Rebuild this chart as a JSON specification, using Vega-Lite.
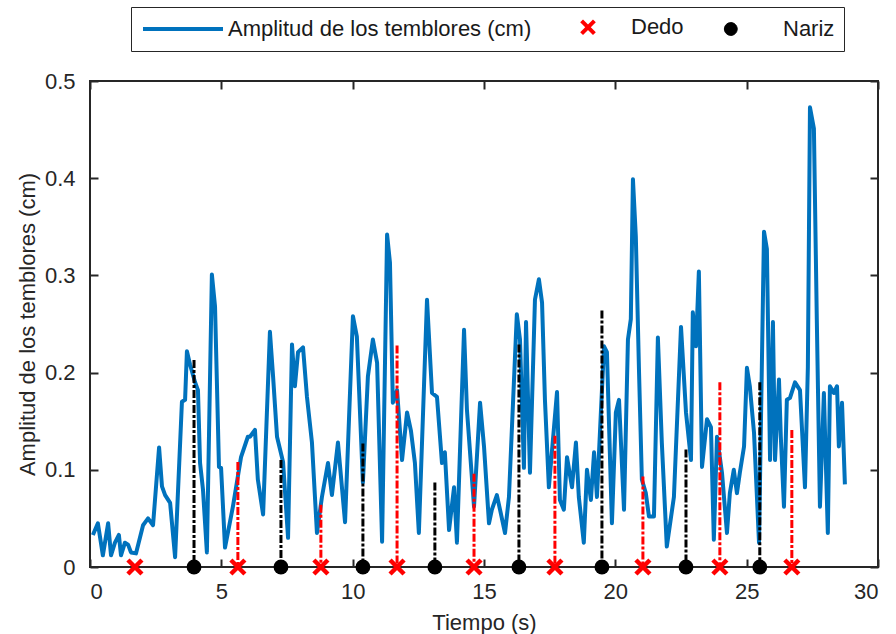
{
  "$schema": "https://vega.github.io/schema/vega-lite/v6.json",
  "width": 788,
  "height": 486,
  "autosize": "none",
  "padding": {"left": 90, "top": 81, "right": 18, "bottom": 67},
  "background": "#ffffff",
  "datasets": {
    "signal": [
      {"t":0.11,"a":0.033},{"t":0.30,"a":0.045},{"t":0.49,"a":0.012},{"t":0.69,"a":0.045},{"t":0.80,"a":0.012},
      {"t":0.95,"a":0.025},{"t":1.10,"a":0.033},{"t":1.18,"a":0.012},{"t":1.33,"a":0.025},{"t":1.45,"a":0.023},
      {"t":1.56,"a":0.015},{"t":1.75,"a":0.014},{"t":2.02,"a":0.043},{"t":2.21,"a":0.050},{"t":2.40,"a":0.043},
      {"t":2.63,"a":0.123},{"t":2.74,"a":0.083},{"t":2.86,"a":0.074},{"t":3.05,"a":0.066},{"t":3.24,"a":0.010},
      {"t":3.50,"a":0.170},{"t":3.62,"a":0.172},{"t":3.69,"a":0.222},{"t":3.81,"a":0.208},{"t":4.00,"a":0.190},
      {"t":4.11,"a":0.182},{"t":4.19,"a":0.107},{"t":4.30,"a":0.080},{"t":4.45,"a":0.015},{"t":4.64,"a":0.301},
      {"t":4.76,"a":0.268},{"t":4.91,"a":0.103},{"t":4.99,"a":0.102},{"t":5.14,"a":0.020},{"t":5.44,"a":0.062},
      {"t":5.75,"a":0.113},{"t":6.01,"a":0.134},{"t":6.09,"a":0.134},{"t":6.28,"a":0.141},{"t":6.39,"a":0.090},
      {"t":6.59,"a":0.054},{"t":6.85,"a":0.242},{"t":6.97,"a":0.196},{"t":7.12,"a":0.134},{"t":7.35,"a":0.108},
      {"t":7.54,"a":0.030},{"t":7.69,"a":0.229},{"t":7.80,"a":0.186},{"t":7.92,"a":0.221},{"t":8.11,"a":0.226},
      {"t":8.26,"a":0.175},{"t":8.45,"a":0.128},{"t":8.64,"a":0.035},{"t":8.83,"a":0.072},{"t":9.06,"a":0.107},
      {"t":9.21,"a":0.074},{"t":9.44,"a":0.128},{"t":9.71,"a":0.046},{"t":10.01,"a":0.258},{"t":10.16,"a":0.237},
      {"t":10.39,"a":0.087},{"t":10.58,"a":0.196},{"t":10.77,"a":0.234},{"t":10.93,"a":0.210},{"t":11.12,"a":0.026},
      {"t":11.31,"a":0.342},{"t":11.42,"a":0.313},{"t":11.53,"a":0.169},{"t":11.69,"a":0.182},{"t":11.88,"a":0.110},
      {"t":12.07,"a":0.159},{"t":12.22,"a":0.140},{"t":12.37,"a":0.107},{"t":12.52,"a":0.035},{"t":12.83,"a":0.275},
      {"t":13.02,"a":0.179},{"t":13.21,"a":0.175},{"t":13.40,"a":0.107},{"t":13.51,"a":0.118},{"t":13.67,"a":0.038},
      {"t":13.86,"a":0.082},{"t":13.97,"a":0.025},{"t":14.24,"a":0.244},{"t":14.35,"a":0.162},{"t":14.62,"a":0.062},
      {"t":14.85,"a":0.169},{"t":15.00,"a":0.124},{"t":15.19,"a":0.045},{"t":15.30,"a":0.059},{"t":15.49,"a":0.074},
      {"t":15.61,"a":0.059},{"t":15.80,"a":0.035},{"t":15.95,"a":0.072},{"t":16.25,"a":0.260},{"t":16.37,"a":0.234},
      {"t":16.52,"a":0.102},{"t":16.60,"a":0.252},{"t":16.75,"a":0.097},{"t":16.94,"a":0.275},{"t":17.09,"a":0.296},
      {"t":17.21,"a":0.272},{"t":17.32,"a":0.172},{"t":17.47,"a":0.082},{"t":17.78,"a":0.180},{"t":17.89,"a":0.069},
      {"t":18.04,"a":0.059},{"t":18.16,"a":0.113},{"t":18.35,"a":0.082},{"t":18.50,"a":0.128},{"t":18.61,"a":0.072},
      {"t":18.80,"a":0.025},{"t":18.92,"a":0.100},{"t":19.07,"a":0.069},{"t":19.19,"a":0.118},{"t":19.30,"a":0.072},
      {"t":19.45,"a":0.159},{"t":19.57,"a":0.227},{"t":19.68,"a":0.221},{"t":19.87,"a":0.045},{"t":20.02,"a":0.159},
      {"t":20.14,"a":0.172},{"t":20.33,"a":0.059},{"t":20.48,"a":0.234},{"t":20.59,"a":0.255},{"t":20.67,"a":0.399},
      {"t":20.78,"a":0.340},{"t":20.90,"a":0.203},{"t":21.01,"a":0.090},{"t":21.16,"a":0.076},{"t":21.28,"a":0.052},
      {"t":21.47,"a":0.052},{"t":21.62,"a":0.236},{"t":21.77,"a":0.128},{"t":21.96,"a":0.021},{"t":22.23,"a":0.072},
      {"t":22.50,"a":0.247},{"t":22.69,"a":0.159},{"t":22.88,"a":0.110},{"t":22.95,"a":0.262},{"t":23.07,"a":0.227},
      {"t":23.18,"a":0.304},{"t":23.30,"a":0.103},{"t":23.49,"a":0.152},{"t":23.64,"a":0.144},{"t":23.75,"a":0.028},
      {"t":23.87,"a":0.134},{"t":24.06,"a":0.097},{"t":24.25,"a":0.035},{"t":24.36,"a":0.076},{"t":24.51,"a":0.100},
      {"t":24.63,"a":0.076},{"t":24.74,"a":0.097},{"t":24.90,"a":0.124},{"t":25.01,"a":0.205},{"t":25.12,"a":0.186},
      {"t":25.28,"a":0.138},{"t":25.47,"a":0.025},{"t":25.66,"a":0.345},{"t":25.77,"a":0.327},{"t":25.89,"a":0.110},
      {"t":26.00,"a":0.252},{"t":26.08,"a":0.110},{"t":26.23,"a":0.193},{"t":26.30,"a":0.134},{"t":26.42,"a":0.062},
      {"t":26.53,"a":0.172},{"t":26.65,"a":0.174},{"t":26.84,"a":0.190},{"t":27.03,"a":0.182},{"t":27.22,"a":0.082},
      {"t":27.33,"a":0.206},{"t":27.41,"a":0.473},{"t":27.56,"a":0.451},{"t":27.67,"a":0.255},{"t":27.79,"a":0.062},
      {"t":27.94,"a":0.179},{"t":28.09,"a":0.035},{"t":28.17,"a":0.186},{"t":28.32,"a":0.179},{"t":28.44,"a":0.186},
      {"t":28.51,"a":0.124},{"t":28.63,"a":0.169},{"t":28.74,"a":0.085}
    ],
    "events": [
      {"t":1.71,"a":0.0,"tipo":"Dedo"},
      {"t":5.63,"a":0.108,"tipo":"Dedo"},
      {"t":8.79,"a":0.064,"tipo":"Dedo"},
      {"t":11.69,"a":0.228,"tipo":"Dedo"},
      {"t":14.62,"a":0.096,"tipo":"Dedo"},
      {"t":17.70,"a":0.135,"tipo":"Dedo"},
      {"t":21.05,"a":0.093,"tipo":"Dedo"},
      {"t":23.98,"a":0.190,"tipo":"Dedo"},
      {"t":26.72,"a":0.141,"tipo":"Dedo"},
      {"t":3.96,"a":0.213,"tipo":"Nariz"},
      {"t":7.27,"a":0.110,"tipo":"Nariz"},
      {"t":10.39,"a":0.127,"tipo":"Nariz"},
      {"t":13.13,"a":0.087,"tipo":"Nariz"},
      {"t":16.33,"a":0.229,"tipo":"Nariz"},
      {"t":19.49,"a":0.264,"tipo":"Nariz"},
      {"t":22.69,"a":0.121,"tipo":"Nariz"},
      {"t":25.50,"a":0.190,"tipo":"Nariz"}
    ]
  },
  "resolve": {"axis": {"x": "independent", "y": "independent"}},
  "layer": [
    {
      "data": {"name": "signal"},
      "mark": {"type": "line", "strokeWidth": 4, "strokeJoin": "round", "clip": true},
      "encoding": {
        "x": {"field": "t", "type": "quantitative",
              "scale": {"domain": [0, 30], "nice": false, "zero": false},
              "axis": {"orient": "bottom", "values": [0,5,10,15,20,25,30], "title": "Tiempo (s)", "labelPadding": 22, "titlePadding": 10}},
        "y": {"field": "a", "type": "quantitative",
              "scale": {"domain": [0, 0.5], "nice": false},
              "axis": {"orient": "left", "values": [0,0.1,0.2,0.3,0.4,0.5], "format": ".1~f", "title": "Amplitud de los temblores (cm)", "labelPadding": 23, "titlePadding": 5}},
        "color": {
          "datum": "Amplitud de los temblores (cm)",
          "type": "nominal",
          "title": null,
          "scale": {"domain": ["Amplitud de los temblores (cm)", "Dedo", "Nariz"], "range": ["#0072BD", "#FF0000", "#000000"]},
          "legend": {
            "orient": "none", "legendX": 41, "legendY": -74,
            "direction": "horizontal", "columns": 3, "title": null,
            "padding": 9, "strokeColor": "#262626", "fillColor": "#ffffff",
            "labelFont": "Liberation Sans", "labelFontSize": 22, "labelColor": "#1a1a1a",
            "labelOffset": 66, "columnPadding": 11, "symbolSize": 256, "labelLimit": 500,
            "encode": {
              "symbols": {
                "update": {
                  "shape": {"signal": "datum.value === 'Dedo' ? 'M3.45,-0.8L5.05,0.8M3.45,0.8L5.05,-0.8' : datum.value === 'Nariz' ? 'M2.3,0A0.8,0.8,0,1,1,3.9,0A0.8,0.8,0,1,1,2.3,0Z' : 'M-1,0L9,0'"},
                  "stroke": {"signal": "datum.value === 'Dedo' ? '#ff0000' : datum.value === 'Nariz' ? '#000000' : '#0000ff'"},
                  "fill": {"signal": "datum.value === 'Nariz' ? '#000000' : 'transparent'"},
                  "strokeWidth": {"signal": "datum.value === 'Nariz' ? 1 : 4"},
                  "strokeDash": {"value": []},
                  "size": {"value": 256},
                  "opacity": {"value": 1}
                }
              }
            }
          }
        }
      }
    },
    {
      "data": {"name": "events"},
      "mark": {"type": "rule", "strokeWidth": 3, "strokeDash": [8, 2, 3, 2]},
      "encoding": {
        "x": {"field": "t", "type": "quantitative",
              "axis": {"orient": "top", "values": [0,5,10,15,20,25,30], "labels": false, "title": null}},
        "y": {"field": "a", "type": "quantitative",
              "axis": {"orient": "right", "values": [0,0.1,0.2,0.3,0.4,0.5], "labels": false, "title": null}},
        "y2": {"datum": 0},
        "color": {"field": "tipo", "type": "nominal", "title": null}
      }
    },
    {
      "data": {"name": "events"},
      "transform": [{"filter": "datum.tipo === 'Dedo'"}],
      "mark": {"type": "point", "shape": "M-1,-1L1,1M-1,1L1,-1", "filled": false, "strokeWidth": 4.5, "size": 196, "opacity": 1},
      "encoding": {
        "x": {"field": "t", "type": "quantitative", "axis": null},
        "y": {"datum": 0, "type": "quantitative", "axis": null},
        "color": {"field": "tipo", "type": "nominal", "title": null}
      }
    },
    {
      "data": {"name": "events"},
      "transform": [{"filter": "datum.tipo === 'Nariz'"}],
      "mark": {"type": "point", "shape": "circle", "filled": true, "size": 220, "opacity": 1},
      "encoding": {
        "x": {"field": "t", "type": "quantitative", "axis": null},
        "y": {"datum": 0, "type": "quantitative", "axis": null},
        "color": {"field": "tipo", "type": "nominal", "title": null}
      }
    }
  ],
  "config": {
    "view": {"stroke": "#262626", "strokeWidth": 2},
    "font": "Liberation Sans",
    "axis": {
      "labelFont": "Liberation Sans", "labelFontSize": 22, "labelColor": "#262626",
      "titleFont": "Liberation Sans", "titleFontSize": 22, "titleColor": "#262626", "titleFontWeight": "normal",
      "tickColor": "#262626", "tickWidth": 2, "tickSize": -8,
      "domain": false, "grid": false
    }
  }
}
